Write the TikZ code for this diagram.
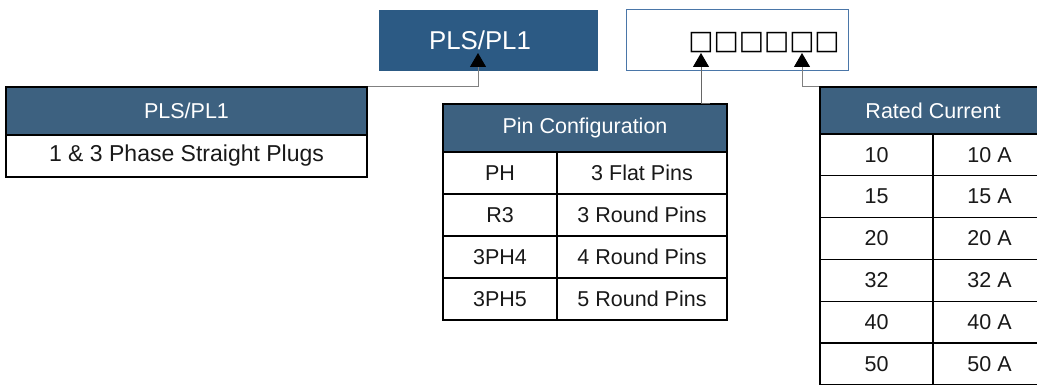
\documentclass[tikz,border=0pt]{standalone}
\usepackage{fontspec}
\setmainfont{Liberation Sans}
\newfontfamily\symfont{DejaVu Sans}
\usetikzlibrary{arrows.meta}
\definecolor{plsblue}{HTML}{2C5A84}
\definecolor{hdrblue}{HTML}{3D6180}
\definecolor{tagedge}{HTML}{4A76A8}
\newcommand{\tabfont}{\fontsize{21.5}{24}\selectfont}
\tikzset{
  cell/.style={draw=black, line width=1.3pt, fill=white, inner sep=0pt,
    font=\tabfont, text=black!90},
  hdr/.style={cell, fill=hdrblue, text=white},
  link/.style={draw=gray, line width=1pt, -{Triangle[width=16pt,length=14pt,black]}}
}
\begin{document}
\begin{tikzpicture}[x=1pt,y=-1pt]
  \useasboundingbox (0,0) rectangle (1037,385);
  % code line on top
  \node[fill=plsblue, minimum width=219pt, minimum height=61pt, inner sep=0pt,
    font=\fontsize{25.8}{28}\selectfont, text=white] (series) at (488.5,40.5) {PLS/PL1\kern17pt};
  \node[draw=tagedge, line width=1pt, minimum width=222pt, minimum height=61pt] (tag) at (737,40.5) {};
  \node[inner sep=0pt, font=\symfont\fontsize{26.7}{30}\selectfont] (slots) at (764,43) {□□□□□□};
  % series table
  \node[hdr, minimum width=361pt, minimum height=48pt] (plshead) at (186.5,111) {PLS/PL1};
  \node[cell, minimum width=361pt, minimum height=42pt, font=\fontsize{23}{26}\selectfont] (plsrow) at (186.5,156) {1 \& 3 Phase Straight Plugs};
  % pin table
  \node[hdr, minimum width=284pt, minimum height=48pt] (pinhead) at (585,128) {Pin Configuration};
  \foreach \code/\desc [count=\i] in {PH/3 Flat Pins, R3/3 Round Pins, 3PH4/4 Round Pins, 3PH5/5 Round Pins} {
    \node[cell, minimum width=114pt, minimum height=42pt] (pincode\i) at (500,131+42*\i) {\code};
    \node[cell, minimum width=170pt, minimum height=42pt] (pindesc\i) at (642,131+42*\i) {\desc};
  }
  % rated current table
  \node[hdr, minimum width=226pt, minimum height=47pt] (ratedhead) at (933,110.5) {Rated Current};
  \foreach \amp [count=\i] in {10,15,20,32,40,50} {
    \node[cell, minimum width=113pt, minimum height=41.8pt] (ratedcode\i) at (876.5,113.1+41.8*\i) {\amp};
    \node[cell, minimum width=113pt, minimum height=41.8pt] (ratedval\i) at (989.5,113.1+41.8*\i) {\amp\ A};
  }
  % connectors
  \coordinate (tgtseries) at (478,53);
  \coordinate (tgtpin) at (701,53);
  \coordinate (tgtrated) at (802,53);
  \coordinate (pinjoin) at (710,104);
  \draw[link] (plshead.north east) -| (tgtseries);
  \draw[link, draw=gray!80!black] (pinjoin) -| (tgtpin);
  \draw[link] (ratedhead.north west) -| (tgtrated);
\end{tikzpicture}
\end{document}
